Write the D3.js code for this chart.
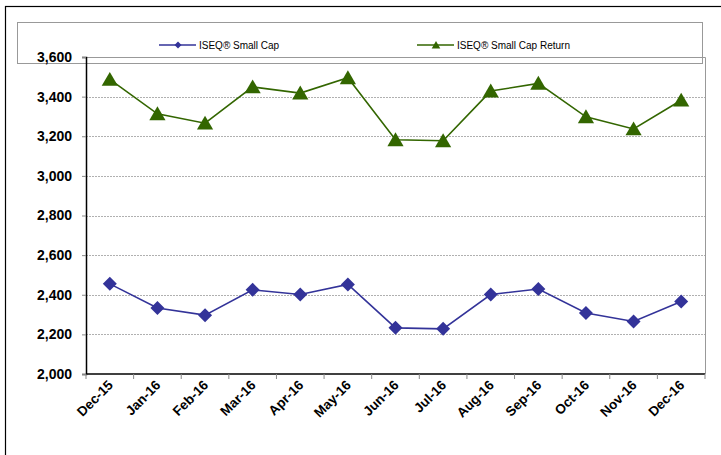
<!DOCTYPE html>
<html><head><meta charset="utf-8">
<script src="https://cdn.jsdelivr.net/npm/d3@7"></script>
<style>body{margin:0;background:#fff}svg{display:block;font-family:"Liberation Sans",Arial,sans-serif}</style>
</head><body><svg id="c" width="721" height="455"></svg>
<script>
const categories = ["Dec-15","Jan-16","Feb-16","Mar-16","Apr-16","May-16","Jun-16","Jul-16","Aug-16","Sep-16","Oct-16","Nov-16","Dec-16"];
const smallCap = [2455,2333,2297,2425,2401,2452,2233,2228,2401,2429,2308,2265,2366];
const smallCapReturn = [3487,3313,3266,3449,3418,3495,3182,3177,3428,3467,3298,3237,3382];
const yTicks = [2000,2200,2400,2600,2800,3000,3200,3400,3600];
const seriesNames = ["ISEQ® Small Cap","ISEQ® Small Cap Return"];

const svg = d3.select("#c");
const L=86, R=705, T=57, B=374;
const x = d3.scaleBand().domain(categories).range([L,R]);
const y = d3.scaleLinear().domain([2000,3600]).range([B,T]);
const fmt = d3.format(",");

// outer border
svg.append("rect").attr("x",5.5).attr("y",6.5).attr("width",730).attr("height",460).attr("fill","none").attr("stroke","#000").attr("stroke-width",1.2);
// legend box
svg.append("rect").attr("x",17.5).attr("y",22.5).attr("width",685).attr("height",41).attr("fill","#fff").attr("stroke","#999");

// gridlines
svg.append("g").selectAll("line").data(yTicks.slice(1,-1)).join("line")
  .attr("x1",L).attr("x2",R).attr("y1",d=>Math.round(y(d))+0.5).attr("y2",d=>Math.round(y(d))+0.5)
  .attr("stroke","#b0b0b0").attr("stroke-dasharray","2,1");
// plot frame top/right
svg.append("path").attr("d",`M${L},${T+0.5}H${R+0.5}V${B}`).attr("fill","none").attr("stroke","#999");

// y axis
const ya = svg.append("g").attr("transform",`translate(${L},0)`)
  .call(d3.axisLeft(y).tickValues(yTicks).tickFormat(fmt).tickSize(4).tickPadding(10));
ya.select(".domain").attr("stroke","#000").attr("stroke-width",1.5);
ya.selectAll("line").attr("stroke","#888");
ya.selectAll("text").attr("font-size",14).attr("font-weight","bold").attr("fill","#000").attr("font-family","Liberation Sans, Arial, sans-serif");

// x axis
const xa = svg.append("g").attr("transform",`translate(0,${B})`);
xa.append("line").attr("x1",L).attr("x2",R).attr("stroke","#000").attr("stroke-width",1.5);
const edges = categories.map(c=>x(c)).concat([R]);
xa.selectAll("line.t").data(edges).join("line").attr("class","t")
  .attr("x1",d=>d).attr("x2",d=>d).attr("y1",0).attr("y2",5).attr("stroke","#888");
xa.selectAll("text").data(categories).join("text")
  .attr("transform",d=>`translate(${x(d)+x.bandwidth()/2+4},${12}) rotate(-45)`)
  .attr("text-anchor","end").attr("font-size",13.5).attr("font-weight","bold").attr("fill","#000").text(d=>d);

const cx = d=>x(d)+x.bandwidth()/2;
const line = d3.line().x((d,i)=>cx(categories[i])).y(d=>y(d));

const blue="#333399", green="#336600";
svg.append("path").datum(smallCap).attr("d",line).attr("fill","none").attr("stroke",blue).attr("stroke-width",1.6);
svg.append("path").datum(smallCapReturn).attr("d",line).attr("fill","none").attr("stroke",green).attr("stroke-width",1.6);

const diamond = s=>`M0,${-s}L${s},0L0,${s}L${-s},0Z`;
const tri = s=>`M0,${-s}L${s*1.08},${s*0.85}L${-s*1.08},${s*0.85}Z`;
svg.append("g").selectAll("path").data(smallCap).join("path")
  .attr("transform",(d,i)=>`translate(${cx(categories[i])},${y(d)})`).attr("d",diamond(7)).attr("fill",blue);
svg.append("g").selectAll("path").data(smallCapReturn).join("path")
  .attr("transform",(d,i)=>`translate(${cx(categories[i])},${y(d)})`).attr("d",tri(7.5)).attr("fill",green);

// legend
const leg = [{n:seriesNames[0],c:blue,x0:159,m:diamond(3.5)},{n:seriesNames[1],c:green,x0:417,m:tri(4)}];
const lg = svg.append("g").selectAll("g").data(leg).join("g").attr("transform",d=>`translate(${d.x0},45)`);
lg.append("line").attr("x1",0).attr("x2",37).attr("stroke",d=>d.c).attr("stroke-width",1.6);
lg.append("path").attr("transform","translate(19,0)").attr("d",d=>d.m).attr("fill",d=>d.c);
lg.append("text").attr("x",40).attr("y",3.5).attr("font-size",10).attr("textLength",null).attr("fill","#000").text(d=>d.n);
</script></body></html>
